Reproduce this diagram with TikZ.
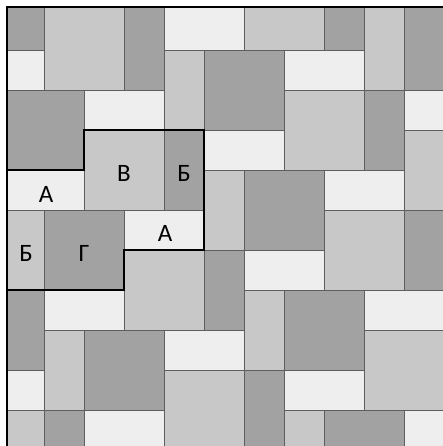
\documentclass[tikz,border=0pt]{standalone}
\usepackage{fontspec}
\setmainfont{Carlito}
\definecolor{dk}{HTML}{A2A2A2}
\definecolor{md}{HTML}{C8C8C8}
\definecolor{wt}{HTML}{EEEEEE}
\definecolor{gl}{HTML}{5E5E5E}
\tikzset{
  gridline/.style={draw=gl, line width=0.9pt},
  thick border/.style={draw=black, line width=2.6pt, line cap=rect, line join=miter},
  lbl/.style={font=\fontsize{25}{25}\selectfont, inner sep=0pt, anchor=center, text depth=0pt}
}
\newcommand\tl[5]{%
  \pgfmathsetmacro\xa{ifthenelse(#2==0,0,4+40*#2)}%
  \pgfmathsetmacro\ya{ifthenelse(#3==0,0,10+40*#3)}%
  \pgfmathsetmacro\xb{4+40*(#2+#4)}%
  \pgfmathsetmacro\yb{10+40*(#3+#5)}%
  \filldraw[fill=#1, gridline] (\xa,-\ya) rectangle (\xb,-\yb);%
}
\begin{document}
\begin{tikzpicture}[x=1pt,y=1pt]
\useasboundingbox (0,0) rectangle (443,-446);
\fill[white] (0,0) rectangle (443,-446);
\begin{scope}
\clip (7,-7) rectangle (443,-446);
% row 0
\tl{dk}{0}{0}{1}{1}
\tl{md}{1}{0}{2}{2}
\tl{dk}{3}{0}{1}{2}
\tl{wt}{4}{0}{2}{1}
\tl{md}{6}{0}{2}{1}
\tl{dk}{8}{0}{1}{1}
\tl{md}{9}{0}{1}{2}
\tl{dk}{10}{0}{1}{2}
% row 1
\tl{wt}{0}{1}{1}{1}
\tl{md}{4}{1}{1}{2}
\tl{dk}{5}{1}{2}{2}
\tl{wt}{7}{1}{2}{1}
% row 2
\tl{dk}{0}{2}{2}{2}
\tl{wt}{2}{2}{2}{1}
\tl{md}{7}{2}{2}{2}
\tl{dk}{9}{2}{1}{2}
\tl{wt}{10}{2}{1}{1}
% row 3
\tl{md}{2}{3}{2}{2}
\tl{dk}{4}{3}{1}{2}
\tl{wt}{5}{3}{2}{1}
\tl{md}{10}{3}{1}{2}
% row 4
\tl{wt}{0}{4}{2}{1}
\tl{md}{5}{4}{1}{2}
\tl{dk}{6}{4}{2}{2}
\tl{wt}{8}{4}{2}{1}
% row 5
\tl{md}{0}{5}{1}{2}
\tl{dk}{1}{5}{2}{2}
\tl{wt}{3}{5}{2}{1}
\tl{md}{8}{5}{2}{2}
\tl{dk}{10}{5}{1}{2}
% row 6
\tl{md}{3}{6}{2}{2}
\tl{dk}{5}{6}{1}{2}
\tl{wt}{6}{6}{2}{1}
% row 7
\tl{dk}{0}{7}{1}{2}
\tl{wt}{1}{7}{2}{1}
\tl{md}{6}{7}{1}{2}
\tl{dk}{7}{7}{2}{2}
\tl{wt}{9}{7}{2}{1}
% row 8
\tl{md}{1}{8}{1}{2}
\tl{dk}{2}{8}{2}{2}
\tl{wt}{4}{8}{2}{1}
\tl{md}{9}{8}{2}{2}
% row 9
\tl{wt}{0}{9}{1}{1}
\tl{md}{4}{9}{2}{2}
\tl{dk}{6}{9}{1}{2}
\tl{wt}{7}{9}{2}{1}
% row 10
\tl{md}{0}{10}{1}{1}
\tl{dk}{1}{10}{1}{1}
\tl{wt}{2}{10}{2}{1}
\tl{md}{7}{10}{1}{1}
\tl{dk}{8}{10}{2}{1}
\tl{wt}{10}{10}{1}{1}
\end{scope}
% outer border (left and top)
\draw[thick border] (7,-447) -- (7,-7) -- (444,-7);
% highlighted region
\draw[thick border] (7,-170) -- (84,-170) -- (84,-130) -- (204,-130) -- (204,-250) -- (124,-250) -- (124,-290) -- (7,-290);
% labels
\node[lbl] (la1) at (46,-194) {А};
\node[lbl] (lv) at (124,-173) {В};
\node[lbl] (lb1) at (184,-173) {Б};
\node[lbl] (lb2) at (26,-253) {Б};
\node[lbl] (lg) at (84,-253) {Г};
\node[lbl] (la2) at (165,-233) {А};
\end{tikzpicture}
\end{document}
